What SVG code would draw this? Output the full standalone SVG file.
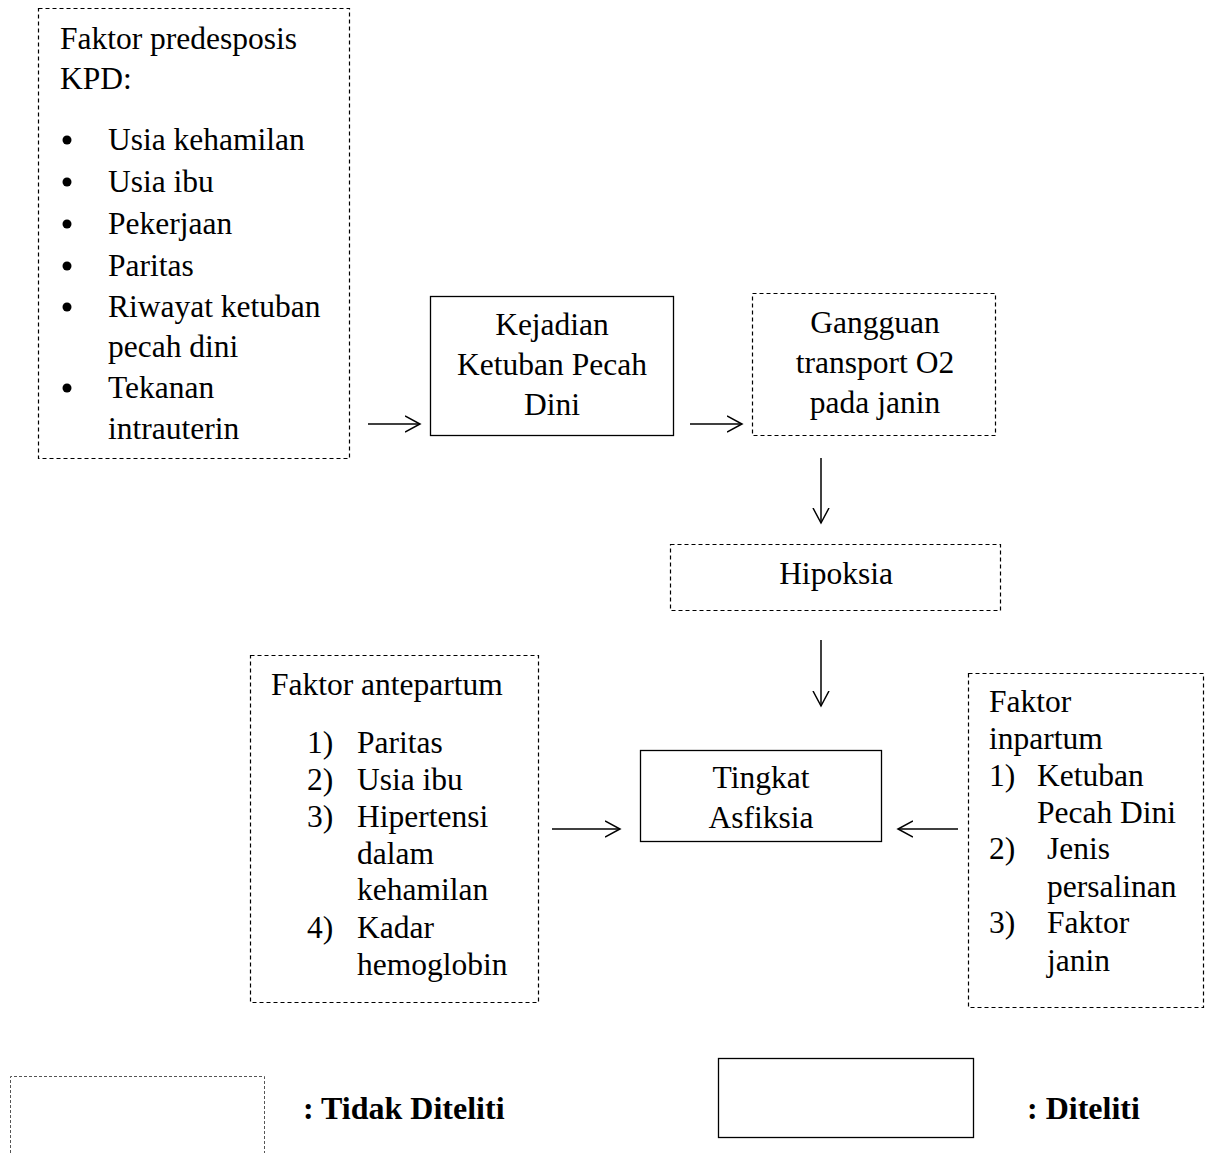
<svg xmlns="http://www.w3.org/2000/svg" width="1206" height="1153" viewBox="0 0 1206 1153">
<style>
text{font-family:"Liberation Serif","Times New Roman",serif;font-size:31.5px;fill:#000}
.c{text-anchor:middle}
.b{font-weight:bold;font-size:32px}
.d{fill:none;stroke:#000;stroke-width:1.2;stroke-dasharray:4,3}
.s{fill:none;stroke:#000;stroke-width:1.3}
.a{fill:none;stroke:#000;stroke-width:1.5}
</style>
<defs>
<marker id="ah" markerUnits="userSpaceOnUse" markerWidth="20" markerHeight="20" refX="15" refY="9" orient="auto">
<path d="M0,1 L15,9 L0,17" fill="none" stroke="#000" stroke-width="1.5"/>
</marker>
</defs>
<rect width="1206" height="1153" fill="#fff"/>
<g id="predisposisi">
<rect class="d" x="38.5" y="8.5" width="311" height="450"/>
<text x="60" y="49">Faktor predesposis</text>
<text x="60" y="89">KPD:</text>
<circle cx="67" cy="140" r="4.5"/><text x="108" y="150">Usia kehamilan</text>
<circle cx="67" cy="182" r="4.5"/><text x="108" y="192">Usia ibu</text>
<circle cx="67" cy="224" r="4.5"/><text x="108" y="234">Pekerjaan</text>
<circle cx="67" cy="266" r="4.5"/><text x="108" y="276">Paritas</text>
<circle cx="67" cy="307" r="4.5"/><text x="108" y="317">Riwayat ketuban</text>
<text x="108" y="357">pecah dini</text>
<circle cx="67" cy="388" r="4.5"/><text x="108" y="398">Tekanan</text>
<text x="108" y="439">intrauterin</text>
</g>
<g id="kpd">
<rect class="s" x="430.5" y="296.5" width="243" height="139"/>
<text class="c" x="552" y="335">Kejadian</text>
<text class="c" x="552" y="375">Ketuban Pecah</text>
<text class="c" x="552" y="415">Dini</text>
</g>
<g id="gangguan">
<rect class="d" x="752.5" y="293.5" width="243" height="142"/>
<text class="c" x="875" y="333">Gangguan</text>
<text class="c" x="875" y="373">transport O2</text>
<text class="c" x="875" y="413">pada janin</text>
</g>
<g id="hipoksia">
<rect class="d" x="670.5" y="544.5" width="330" height="66"/>
<text class="c" x="836" y="584">Hipoksia</text>
</g>
<g id="antepartum">
<rect class="d" x="250.5" y="655.5" width="288" height="347"/>
<text x="271" y="695">Faktor antepartum</text>
<text x="307" y="753">1)</text><text x="357" y="753">Paritas</text>
<text x="307" y="790">2)</text><text x="357" y="790">Usia ibu</text>
<text x="307" y="827">3)</text><text x="357" y="827">Hipertensi</text>
<text x="357" y="864">dalam</text>
<text x="357" y="900">kehamilan</text>
<text x="307" y="938">4)</text><text x="357" y="938">Kadar</text>
<text x="357" y="975">hemoglobin</text>
</g>
<g id="asfiksia">
<rect class="s" x="640.5" y="750.5" width="241" height="91"/>
<text class="c" x="761" y="788">Tingkat</text>
<text class="c" x="761" y="828">Asfiksia</text>
</g>
<g id="inpartum">
<rect class="d" x="968.5" y="673.5" width="235" height="334"/>
<text x="989" y="712">Faktor</text>
<text x="989" y="749">inpartum</text>
<text x="989" y="786">1)</text><text x="1037" y="786">Ketuban</text>
<text x="1037" y="823">Pecah Dini</text>
<text x="989" y="859">2)</text><text x="1047" y="859">Jenis</text>
<text x="1047" y="897">persalinan</text>
<text x="989" y="933">3)</text><text x="1047" y="933">Faktor</text>
<text x="1047" y="971">janin</text>
</g>
<g id="connectors">
<line class="a" x1="368" y1="424" x2="420" y2="424" marker-end="url(#ah)"/>
<line class="a" x1="690" y1="424" x2="742" y2="424" marker-end="url(#ah)"/>
<line class="a" x1="821" y1="458" x2="821" y2="523" marker-end="url(#ah)"/>
<line class="a" x1="821" y1="640" x2="821" y2="706" marker-end="url(#ah)"/>
<line class="a" x1="552" y1="829" x2="620" y2="829" marker-end="url(#ah)"/>
<line class="a" x1="958" y1="829" x2="898" y2="829" marker-end="url(#ah)"/>
</g>
<g id="legend">
<path d="M10.5,1153 V1076.5 H264.5 V1153" fill="none" stroke="#555" stroke-width="1" stroke-dasharray="3,2"/>
<text class="b" x="303" y="1119">: Tidak Diteliti</text>
<rect class="s" x="718.5" y="1058.5" width="255" height="79"/>
<text class="b" x="1027" y="1119">: Diteliti</text>
</g>
</svg>
